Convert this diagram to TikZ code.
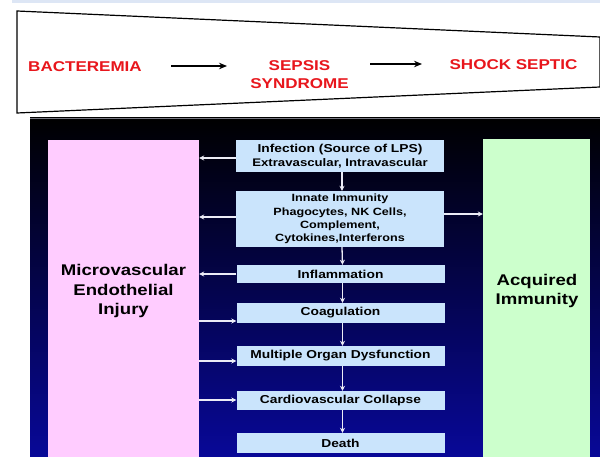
\documentclass[tikz,border=0pt]{standalone}
\usepackage{fontspec}
\setmainfont[FakeStretch=1.2]{Liberation Sans}
\usetikzlibrary{arrows.meta}

\definecolor{stagered}{RGB}{232,22,28}
\definecolor{bandblue}{RGB}{221,230,245}
\definecolor{stepblue}{RGB}{202,228,252}
\definecolor{injpink}{RGB}{255,204,255}
\definecolor{immgreen}{RGB}{204,255,204}
\definecolor{navymid}{RGB}{0,0,126}
\definecolor{navylow}{RGB}{8,8,152}
\definecolor{arrowwhite}{RGB}{236,236,246}
\definecolor{panelrim}{RGB}{120,120,130}

\tikzset{
  stage/.style={text=stagered, font=\bfseries\fontsize{14.2}{17.5}\selectfont, align=center, inner sep=0pt},
  stagearrow/.style={draw=black, line width=1.4pt, -{Stealth[length=8pt,width=6.5pt]}},
  stepbox/.style={fill=stepblue, draw=none, minimum width=208pt, inner sep=0pt, align=center,
                  font=\bfseries\fontsize{11.5}{13.5}\selectfont},
  sidebox/.style={draw=none, inner sep=0pt},
  sidelabel/.style={font=\bfseries\fontsize{15.5}{19.5}\selectfont, align=center, inner sep=0pt},
  warrow/.style={draw=arrowwhite, line width=1.3pt, -{Stealth[length=5pt,width=5pt]}}
}

\begin{document}
\begin{tikzpicture}[x=1pt,y=-1pt]
\useasboundingbox (0,0) rectangle (600,457);

% thin band along the top edge
\fill[bandblue] (12,0) rectangle (600,3);

% narrowing banner of the stages
\draw[line width=1.2pt, fill=white] (17,11) -- (600,37) -- (600,87) -- (17,113) -- cycle;
\node[stage] (bact) at (85,67) {BACTEREMIA};
\node[stage] (sepsis) at (299.5,74.5) {SEPSIS\\SYNDROME};
\node[stage] (shock) at (513.5,65) {SHOCK SEPTIC};
\coordinate (a1s) at (171,66);
\coordinate (a1e) at (227,66);
\coordinate (a2s) at (370,64);
\coordinate (a2e) at (422,64);
\draw[stagearrow] (a1s) -- (a1e);
\draw[stagearrow] (a2s) -- (a2e);

% dark panel
\shade[top color=black, middle color=navymid, bottom color=navylow] (30,118) rectangle (600,457);
\draw[panelrim, line width=0.6pt] (30,118.3) -- (600,118.3);

% side columns
\node[sidebox, fill=injpink, minimum width=151pt, minimum height=317pt] (inj) at (123.5,298.5) {};
\node[sidelabel] (injtext) at (123.5,291) {Microvascular\\Endothelial\\Injury};
\node[sidebox, fill=immgreen, minimum width=107pt, minimum height=318pt] (imm) at (536.5,298) {};
\node[sidelabel] (immtext) at (537,291) {Acquired\\Immunity};

% cascade of steps
\node[stepbox, minimum height=32pt] (inf) at (340,156)
  {Infection (Source of LPS)\\{\fontsize{11}{13.5}\selectfont Extravascular, Intravascular}};
\node[stepbox, minimum height=56pt, font=\bfseries\fontsize{10.5}{13.3}\selectfont] (innate) at (340,219)
  {Innate Immunity\\Phagocytes, NK Cells,\\Complement,\\Cytokines,Interferons};
\node[stepbox, minimum height=18pt] (infl) at (340.5,274) {Inflammation};
\node[stepbox, minimum height=20pt] (coag) at (340.5,313) {Coagulation};
\node[stepbox, minimum height=20pt] (mod) at (340.5,356) {Multiple Organ Dysfunction};
\node[stepbox, minimum height=19pt] (cv) at (340.5,400.5) {Cardiovascular Collapse};
\node[stepbox, minimum height=20pt] (death) at (340.5,443) {Death};

% downward chain
\foreach \a/\b in {inf/innate, innate/infl, infl/coag, coag/mod, mod/cv, cv/death}
  \draw[warrow] ([xshift=2pt]\a.south) -- ([xshift=2pt]\b.north);

% links with the side columns
\draw[warrow] (inf.west |- 0,158) -- (inj.east |- 0,158);
\draw[warrow] (innate.west |- 0,217) -- (inj.east |- 0,217);
\draw[warrow] (infl.west |- 0,274) -- (inj.east |- 0,274);
\draw[warrow] (inj.east |- 0,321) -- (coag.west |- 0,321);
\draw[warrow] (inj.east |- 0,361) -- (mod.west |- 0,361);
\draw[warrow] (inj.east |- 0,400) -- (cv.west |- 0,400);
\draw[warrow] (innate.east |- 0,214) -- (imm.west |- 0,214);
\end{tikzpicture}
\end{document}
